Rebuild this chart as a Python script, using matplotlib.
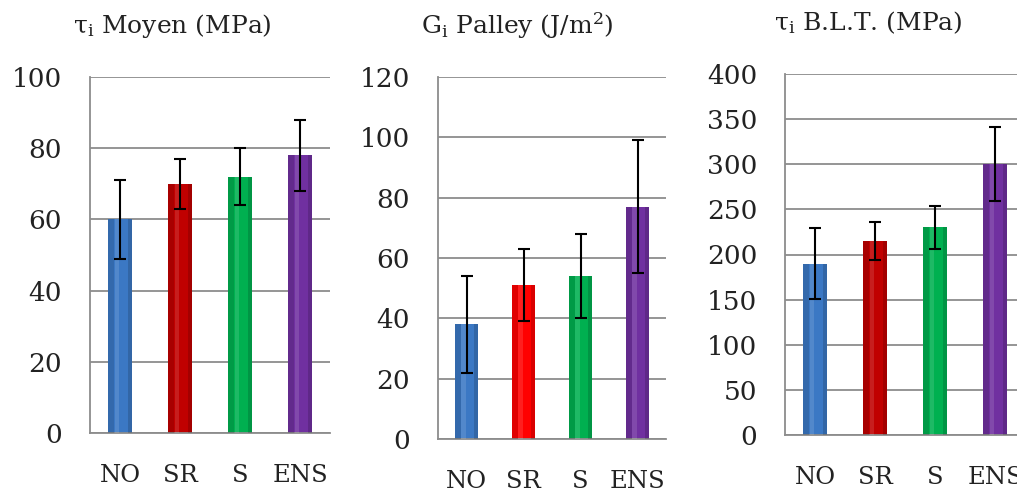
import matplotlib
matplotlib.use("Agg")
import matplotlib.pyplot as plt
import numpy as np

plt.rcParams['font.family'] = ['DejaVu Serif']
plt.rcParams['mathtext.fontset'] = 'dejavuserif'

categories = ["NO", "SR", "S", "ENS"]

moyen_vals = [60, 70, 72, 78]
moyen_err = [11, 7, 8, 10]

palley_vals = [38, 51, 54, 77]
palley_err = [16, 12, 14, 22]

blt_vals = [190, 215, 230, 300]
blt_err = [39, 21, 24, 41]

titles = [r"τ$_\mathrm{i}$ Moyen (MPa)",
          r"G$_\mathrm{i}$ Palley (J/m$^2$)",
          r"τ$_\mathrm{i}$ B.L.T. (MPa)"]

colors_1 = ["#3b78c4", "#c00000", "#00b050", "#7030a0"]
colors_2 = ["#3b78c4", "#ff0000", "#00b050", "#7030a0"]
colors_3 = ["#3b78c4", "#c00000", "#00b050", "#7030a0"]

W, H = 1017, 495
fig = plt.figure(figsize=(W / 100, H / 100), dpi=100)

panels = [
    dict(rect=[90, 77, 240, 356], vals=moyen_vals, err=moyen_err, ymax=100, step=20,
         colors=colors_1, title_xy=(172, 26), xlab_y=475),
    dict(rect=[438, 77, 228, 362], vals=palley_vals, err=palley_err, ymax=120, step=20,
         colors=colors_2, title_xy=(517, 26), xlab_y=482),
    dict(rect=[785, 74, 240, 361], vals=blt_vals, err=blt_err, ymax=400, step=50,
         colors=colors_3, title_xy=(868, 23), xlab_y=477),
]

grid_col = "#8c8c8c"
for p, title in zip(panels, titles):
    x0, y0, w, h = p["rect"]
    ax = fig.add_axes([x0 / W, (H - y0 - h) / H, w / W, h / H])
    x = np.arange(len(categories))
    ax.bar(x, p["vals"], width=0.4, color=p["colors"], edgecolor="none", zorder=2)
    # shading for a cylindrical look
    for xi, v, c in zip(x, p["vals"], p["colors"]):
        ax.bar(xi - 0.15, v, width=0.1, color="black", alpha=0.12, edgecolor="none", zorder=3)
        ax.bar(xi + 0.17, v, width=0.06, color="black", alpha=0.15, edgecolor="none", zorder=3)
        ax.bar(xi - 0.05, v, width=0.08, color="white", alpha=0.12, edgecolor="none", zorder=3)
    ax.errorbar(x, p["vals"], yerr=p["err"], fmt="none", ecolor="black",
                elinewidth=1.5, capsize=4.5, capthick=1.5, zorder=4)
    ax.set_xlim(-0.5, len(categories) - 0.5)
    ax.set_ylim(0, p["ymax"])
    ax.set_yticks(np.arange(0, p["ymax"] + 1, p["step"]))
    ax.yaxis.grid(True, color=grid_col, linewidth=1.3, zorder=0)
    ax.set_axisbelow(True)
    for s in ["top", "right"]:
        ax.spines[s].set_visible(False)
    for s in ["left", "bottom"]:
        ax.spines[s].set_color(grid_col)
        ax.spines[s].set_linewidth(1.3)
    ax.tick_params(axis="y", length=0, pad=20, labelsize=19, labelcolor="#222222")
    ax.tick_params(axis="x", length=0, labelbottom=False)
    # x labels
    for xi, lab in zip(x, categories):
        ax.annotate(lab, xy=(xi, 0), xycoords=("data", "axes fraction"),
                    xytext=(0, -(p["xlab_y"] - (y0 + h))), textcoords="offset pixels",
                    ha="center", va="center", fontsize=17.5, color="#222222",
                    annotation_clip=False)
    fig.text(p["title_xy"][0] / W, 1 - p["title_xy"][1] / H, title,
             ha="center", va="center", fontsize=18, color="#222222")

fig.savefig("out.png", dpi=100)
